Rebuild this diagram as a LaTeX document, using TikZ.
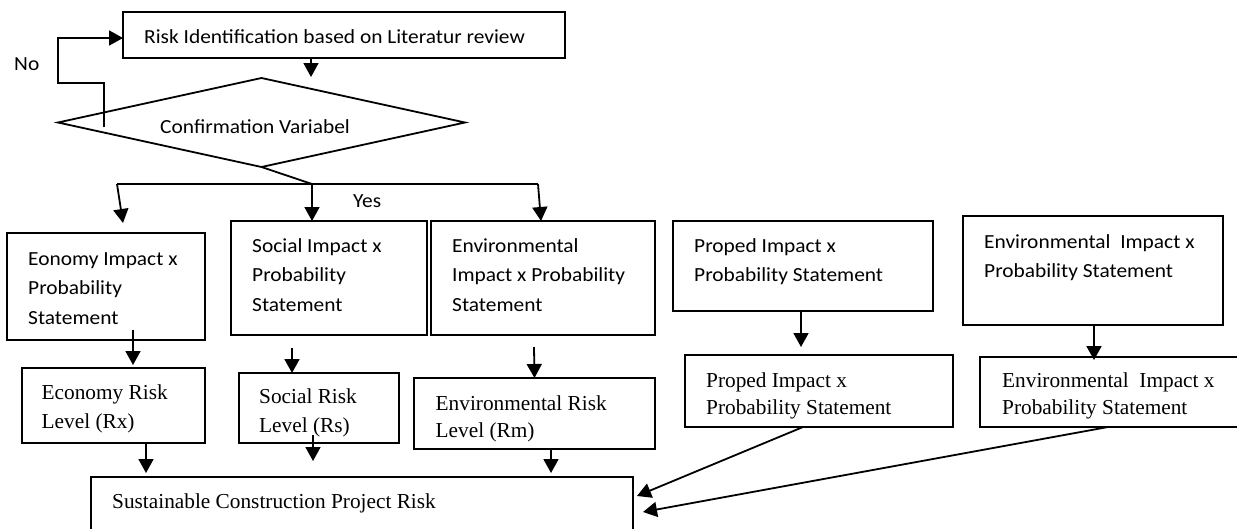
\documentclass[tikz,border=0pt]{standalone}
\usepackage{fontspec}
\setmainfont{Liberation Serif}
\newfontfamily\calfont[FakeStretch=1.07]{Carlito}
\usetikzlibrary{arrows.meta,shapes.geometric}
\begin{document}
\begin{tikzpicture}[x=1pt,y=-1pt,
 box/.style={draw,line width=1.8pt,rectangle,inner sep=0pt,outer sep=0pt},
 cal/.style={inner sep=0pt,anchor=base west,align=left,font=\calfont\fontsize{20}{29.5}\selectfont},
 tms/.style={inner sep=0pt,anchor=base west,align=left,font=\fontsize{21.3}{29}\selectfont},
 tmsn/.style={inner sep=0pt,anchor=base west,align=left,font=\fontsize{21.3}{27}\selectfont},
 arr/.style={line width=1.8pt,-{Triangle[width=15pt,length=14pt]}},
 ln/.style={line width=1.8pt}]
\useasboundingbox (0,0) rectangle (1237,528);
\clip (0,0) rectangle (1237,528);
% boxes
\node[box,minimum width=442pt,minimum height=46pt] (top) at (344,35) {};
\node[draw,diamond,line width=1.8pt,minimum width=407pt,minimum height=89pt,inner sep=0pt,outer sep=0pt] (dia) at (261.5,122.5) {};
\node[box,minimum width=198pt,minimum height=107pt] (eco) at (106,286.5) {};
\node[box,minimum width=196pt,minimum height=114pt] (soc) at (329,278) {};
\node[box,minimum width=224pt,minimum height=114pt] (env) at (543,278) {};
\node[box,minimum width=260pt,minimum height=90pt] (prop) at (803,266) {};
\node[box,minimum width=260pt,minimum height=109pt] (envb) at (1093,270.5) {};
\node[box,minimum width=183pt,minimum height=75pt] (ecor) at (113.5,405.5) {};
\node[box,minimum width=160pt,minimum height=70pt] (socr) at (319,408) {};
\node[box,minimum width=241pt,minimum height=71pt] (envr) at (534.5,413.5) {};
\node[box,minimum width=268pt,minimum height=72pt] (propr) at (819,391) {};
\node[box,minimum width=265pt,minimum height=70pt] (envbr) at (1112.5,392) {};
\node[box,minimum width=542pt,minimum height=68pt] (bot) at (362,511) {};
% texts (anchor = baseline of the last line)
\node[cal] (toptxt) at (144,43) {Risk Identification based on Literatur review};
\node[cal] (notxt) at (14,70) {No};
\node[cal] (diatxt) at (160,133) {Confirmation Variabel};
\node[cal] (yestxt) at (353,207) {Yes};
\node[cal] (ecotxt) at (28,324) {Eonomy Impact x\\Probability\\Statement};
\node[cal] (soctxt) at (252,311) {Social Impact x\\Probability\\Statement};
\node[cal] (envtxt) at (452,311) {Environmental\\Impact x Probability\\Statement};
\node[cal] (proptxt) at (694,281.5) {Proped Impact x\\Probability Statement};
\node[cal] (envbtxt) at (984,277.5) {Environmental~ Impact x\\Probability Statement};
\node[tms] (ecortxt) at (41.5,428) {Economy Risk\\Level (Rx)};
\node[tms] (socrtxt) at (259,432) {Social Risk\\Level (Rs)};
\node[tmsn] (envrtxt) at (435.5,437) {Environmental Risk\\Level (Rm)};
\node[tmsn] (proprtxt) at (706,414) {Proped Impact x\\Probability Statement};
\node[tmsn] (envbrtxt) at (1002,414) {Environmental~ Impact x\\Probability Statement};
\node[tms] (bottxt) at (112,508) {Sustainable Construction Project Risk};
% connectors
\draw[arr] ([xshift=-33pt]top.south) -- ([xshift=49.5pt,yshift=1pt]dia.north);
\draw[arr] ([xshift=-157.5pt,yshift=-4.5pt]dia.center) -- ++(0,-44) -- ++(-46,0) |- ([yshift=-3pt]top.west);
\coordinate (hl) at (117,184);
\coordinate (hm) at (312,184);
\coordinate (hr) at (538,184);
\draw[ln] (dia.south) -- (hm);
\draw[ln] (hl) -- (hr);
\draw[arr] (hl) -- ([xshift=17pt,yshift=10pt]eco.north);
\draw[arr] (hm) -- ([xshift=-17pt]soc.north);
\draw[arr] (hr) -- ([xshift=-2pt]env.north);
\draw[arr] ([xshift=27pt,yshift=10pt]eco.south) -- ([xshift=19.5pt,yshift=3pt]ecor.north);
\draw[arr] ([xshift=-37pt,yshift=-13pt]soc.south) -- ([xshift=-27pt]socr.north);
\draw[arr] ([xshift=-9pt,yshift=-12pt]env.south) -- (envr.north);
\draw[arr] ([xshift=-2pt]prop.south) -- ([xshift=-18pt,yshift=8pt]propr.north);
\draw[arr] ([xshift=1pt]envb.south) -- ([xshift=-18.5pt,yshift=-3pt]envbr.north);
\draw[arr] ([xshift=32.5pt]ecor.south) -- ([xshift=-216pt,yshift=4pt]bot.north);
\draw[arr] ([xshift=-6pt,yshift=8pt]socr.south) -- ([xshift=-49pt,yshift=16pt]bot.north);
\draw[arr] ([xshift=16.5pt]envr.south) -- ([xshift=189pt,yshift=4pt]bot.north);
\draw[arr] ([xshift=-16pt]propr.south) -- ([xshift=4pt,yshift=15pt]bot.east);
\draw[arr] ([xshift=-4.5pt]envbr.south) -- ([xshift=10pt,yshift=-1pt]bot.east);
\end{tikzpicture}
\end{document}
